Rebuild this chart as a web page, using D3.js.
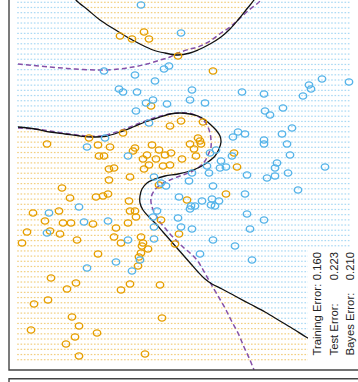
<!DOCTYPE html>
<html>
<head>
<meta charset="utf-8">
<script src="https://cdn.jsdelivr.net/npm/d3@7/dist/d3.min.js"></script>
<style>
  html, body { margin: 0; padding: 0; background: #fff; }
  svg { display: block; }
</style>
</head>
<body>
<svg id="chart" width="358" height="382"></svg>
<script>
// Training observations, in plot units (x to the right, y upwards)
const orangePoints = [
  [135,338],[111,334],[123,331],[140,331],[169,314],[204,299],[142,264],[161,244],
  [172,249],[194,248],[80,232],[114,237],[38,226],[89,225],[101,223],[90,214],
  [95,214],[124,219],[126,222],[143,225],[150,220],[138,215],[134,211],[147,211],
  [156,215],[162,217],[140,205],[135,201],[154,204],[161,205],[100,201],[105,202],
  [100,190],[121,193],[53,182],[189,232],[191,229],[192,226],[181,226],[185,221],
  [187,214],[173,211],[225,217],[228,203],[150,185],[178,170],[217,176],[170,136],
  [61,172],[87,173],[94,174],[99,176],[120,169],[121,159],[126,159],[127,153],
  [50,159],[24,157],[36,149],[54,147],[62,147],[84,146],[119,147],[107,142],
  [18,138],[41,139],[51,136],[13,127],[68,130],[105,133],[112,127],[132,133],
  [134,127],[133,124],[139,121],[132,117],[130,113],[129,104],[89,116],[42,92],
  [67,87],[58,81],[39,70],[25,66],[112,80],[121,86],[151,85],[153,52],
  [63,53],[70,44],[88,37],[22,40],[66,33],[57,26],[70,14],[136,16],
  [166,126],[152,150]
];
const bluePoints = [
  [132,365],[172,337],[95,299],[126,295],[155,301],[160,304],[146,289],[110,281],
  [114,278],[128,278],[137,267],[144,270],[158,266],[127,259],[140,247],[96,232],
  [78,223],[119,214],[145,193],[157,184],[313,291],[340,288],[300,285],[302,281],
  [294,274],[183,280],[181,270],[196,267],[233,278],[255,276],[274,262],[256,259],
  [261,255],[283,242],[229,238],[236,236],[224,233],[273,236],[255,230],[255,226],
  [278,226],[201,217],[207,220],[223,214],[281,215],[212,209],[198,204],[211,202],
  [217,203],[200,197],[183,197],[180,189],[204,184],[238,195],[258,192],[266,194],
  [268,207],[266,202],[279,197],[316,203],[289,180],[170,173],[236,176],[182,164],
  [186,164],[181,161],[193,169],[203,171],[202,165],[206,164],[210,169],[238,156],
  [255,150],[241,141],[204,130],[226,124],[243,110],[191,116],[183,141],[172,143],
  [169,152],[70,163],[40,157],[75,148],[99,149],[38,137],[119,130],[145,131],
  [131,110],[123,99],[107,108],[78,102],[148,159],[144,153],[145,143],[152,187]
];

// Fitted SVM decision boundary (two branches)
const svmUpper = [
  [65,374],[67,370],[79,360],[91,350],[105,341],[118,333],[131,326],[144,320],[156,317],
  [169,315],[181,317],[189,320],[201,326],[212,333],[221,341],[229,350],[237,360],[245,370],[247,374]
];
const svmLower = [
  [9,243],[26,241],[41,238],[56,236],[71,234],[86,233],[98,234],[111,238],[124,243],
  [136,248],[151,253],[161,256],[171,257],[181,256],[189,254],[196,250],[202,245],
  [207,240],[211,234],[212,228],[210,221],[206,214],[199,208],[191,203],[181,199],
  [169,196],[156,194],[146,191],[138,187],[133,181],[131,174],[131,167],[134,160],
  [140,153],[147,146],[154,138],[161,130],[168,122],[175,114],[182,106],[189,98],
  [196,91],[203,86],[213,81],[226,74],[241,66],[256,58],[271,49],[286,40],[297,33],
  [321,20],[346,6],[352,3]
];

// Bayes decision boundary (two branches)
const bayesUpper = [
  [9,306],[41,303],[66,301],[91,300],[111,301],[124,303],[138,306],[151,310],[161,313],
  [169,317],[181,321],[189,323],[201,329],[212,337],[221,343],[229,350],[240,360],[251,369],[253,374]
];
const bayesLower = [
  [9,242],[26,241],[41,239],[61,236],[78,234],[91,234],[101,236],[116,241],[131,247],
  [148,253],[161,256],[169,257],[179,257],[186,255],[193,251],[198,245],[201,237],
  [202,230],[202,223],[199,215],[196,209],[190,203],[182,198],[171,194],[161,190],
  [151,185],[145,179],[142,172],[143,163],[147,155],[151,148],[156,142],[161,136],
  [167,130],[174,123],[181,117],[188,110],[193,102],[197,95],[202,86],[209,74],
  [216,62],[222,50],[229,37],[235,23],[241,10],[245,0]
];

const errorLabels = ["Training Error:", "Test Error:", "Bayes Error:"];
const errorValues = ["0.160", "0.223", "0.210"];

const ORANGE = "#E69F00";
const BLUE = "#56B4E9";
const PURPLE = "#8550A8";

const svg = d3.select("#chart");
const x = d3.scaleLinear().domain([0, 349]).range([9, 358]);
const y = d3.scaleLinear().domain([0, 370]).range([370, 0]);

svg.append("defs").append("clipPath").attr("id", "plotClip")
  .append("rect").attr("x", x(0)).attr("y", y(370)).attr("width", x(349) - x(0)).attr("height", y(0) - y(370));

const plot = svg.append("g").attr("clip-path", "url(#plotClip)");

// Classification lattice: orange inside the regions bounded by the SVM boundary
const regionTop = svmUpper.concat([[260, 400], [50, 400]]);
const regionBottom = svmLower.concat([[380, -20], [-20, -20], [-20, 243]]);
const gridX = d3.range(100).map(i => 9 + i * 3.34);
const gridY = d3.range(70).map(j => 367.7 - j * 5.18);
const lattice = [];
gridY.forEach(gy => gridX.forEach(gx => {
  const p = [gx, gy];
  const isOrange = d3.polygonContains(regionTop, p) || d3.polygonContains(regionBottom, p);
  lattice.push({ gx, gy, cls: isOrange ? "o" : "b" });
}));

plot.append("g").selectAll("rect").data(lattice).join("rect")
  .attr("x", d => x(d.gx) - 0.8)
  .attr("y", d => y(d.gy) - 0.6)
  .attr("width", 1.6)
  .attr("height", 1.2)
  .attr("fill", d => d.cls === "o" ? ORANGE : BLUE)
  .attr("fill-opacity", 0.5);

const line = d3.line().x(d => x(d[0])).y(d => y(d[1])).curve(d3.curveCatmullRom.alpha(0.5));

[bayesUpper, bayesLower].forEach(seg => {
  plot.append("path").attr("d", line(seg))
    .attr("fill", "none").attr("stroke", PURPLE).attr("stroke-width", 1.5)
    .attr("stroke-dasharray", "5,3");
});
[svmUpper, svmLower].forEach(seg => {
  plot.append("path").attr("d", line(seg))
    .attr("fill", "none").attr("stroke", "#111").attr("stroke-width", 1.3);
});

function drawPoints(data, color) {
  plot.append("g").selectAll("ellipse").data(data).join("ellipse")
    .attr("cx", d => x(d[0]))
    .attr("cy", d => y(d[1]))
    .attr("rx", 3.7)
    .attr("ry", 3.1)
    .attr("fill", "none")
    .attr("stroke", color)
    .attr("stroke-width", 1.4);
}
drawPoints(orangePoints, ORANGE);
drawPoints(bluePoints, BLUE);

// Error summary box
plot.append("rect").attr("x", 308).attr("y", 247).attr("width", 60).attr("height", 130).attr("fill", "#fff");
const baselines = [321.4, 337.6, 353.6];
errorLabels.forEach((lab, i) => {
  svg.append("text")
    .attr("transform", `translate(${baselines[i]},355.5) rotate(-90)`)
    .attr("text-anchor", "start")
    .attr("font-family", "Liberation Sans, Arial, Helvetica, sans-serif")
    .attr("font-size", 11.3)
    .attr("fill", "#222")
    .text(lab);
  svg.append("text")
    .attr("transform", `translate(${baselines[i]},252) rotate(-90)`)
    .attr("text-anchor", "end")
    .attr("font-family", "Liberation Sans, Arial, Helvetica, sans-serif")
    .attr("font-size", 11.3)
    .attr("fill", "#222")
    .text(errorValues[i]);
});

// Panel frames
const frame = svg.append("g").attr("stroke", "#444").attr("stroke-width", 1.4).attr("fill", "none");
frame.append("path").attr("d", `M${x(0)},0 V${y(0)} H358`);
frame.append("path").attr("d", `M358,378.7 H${x(0)} V382`);
</script>
</body>
</html>
